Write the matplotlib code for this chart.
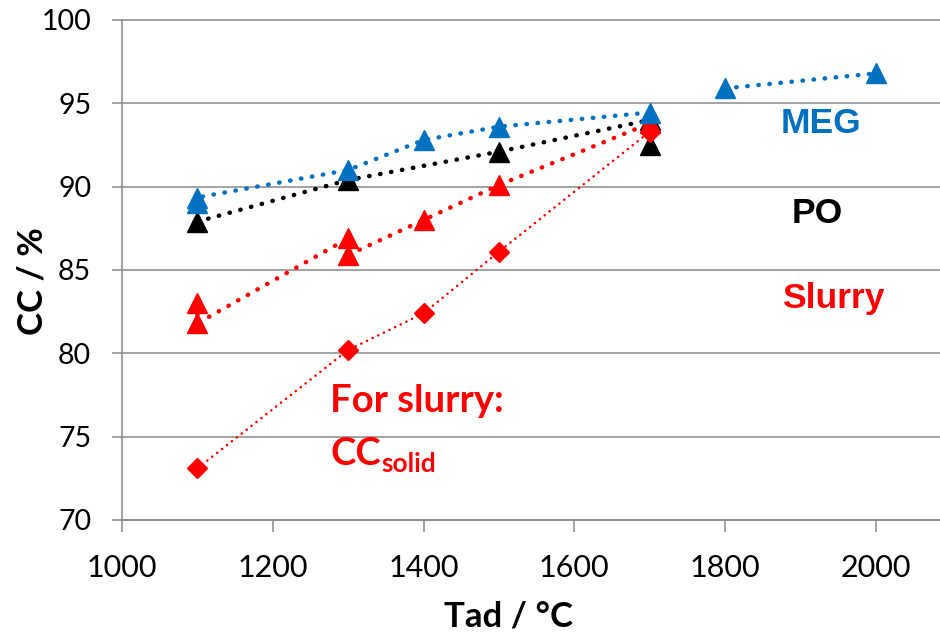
import matplotlib
matplotlib.use("Agg")
import matplotlib.pyplot as plt

# ---- data ----
meg_x = [1100, 1100, 1300, 1400, 1500, 1700]
meg_y = [89.0, 89.35, 91.0, 92.8, 93.6, 94.45]
meg2_x = [1800, 2000]
meg2_y = [95.9, 96.8]
po_x = [1100, 1300, 1500, 1700, 1700]
po_y = [87.9, 90.4, 92.1, 94.0, 92.5]
slurry_x = [1100, 1100, 1300, 1300, 1400, 1500, 1700]
slurry_y = [83.0, 81.8, 86.9, 85.9, 88.0, 90.1, 93.8]
solid_x = [1100, 1300, 1400, 1500, 1700]
solid_y = [73.1, 80.2, 82.4, 86.1, 93.3]
x_ticks = [1000, 1200, 1400, 1600, 1800, 2000]
y_ticks = [70, 75, 80, 85, 90, 95, 100]

BLUE = "#0070C0"
RED = "#FF0000"
GRID = "#898989"
W, H = 940, 632

fig = plt.figure(figsize=(9.4, 6.32), dpi=100)
ax = fig.add_axes([122 / W, 1 - 520 / H, 1 - 122 / W, 500 / H])

big_dot = dict(linestyle=(0, (0.1, 2.4)), linewidth=3.2, dash_capstyle="round")
thin_dot = dict(linestyle=(0, (0.1, 2.4)), linewidth=1.8, dash_capstyle="round")

ax.plot(po_x, po_y, color="black", marker="^", markersize=14, zorder=3, **big_dot)
ax.plot(slurry_x, slurry_y, color=RED, marker="^", markersize=14, zorder=4, **big_dot)
ax.plot(solid_x, solid_y, color=RED, marker="D", markersize=10, zorder=5, **thin_dot)
ax.plot(meg_x, meg_y, color=BLUE, marker="^", markersize=14, zorder=6, **big_dot)
ax.plot(meg2_x, meg2_y, color=BLUE, marker="^", markersize=14, zorder=6, **big_dot)

ax.set_xlim(1000, 2085)
ax.set_ylim(70, 100)
ax.set_xticks(x_ticks)
ax.set_yticks(y_ticks)
ax.grid(axis="y", color=GRID, linewidth=1.1)
ax.grid(axis="x", visible=False)
for gl in ax.get_ygridlines():
    gl.set_clip_on(False)
ax.set_axisbelow(True)
for s in ["top", "right"]:
    ax.spines[s].set_visible(False)
for s in ["left", "bottom"]:
    ax.spines[s].set_color(GRID)
    ax.spines[s].set_linewidth(1.1)

ax.tick_params(axis="x", direction="out", length=8.6, width=1.1, color=GRID, pad=16)
ax.tick_params(axis="y", direction="out", length=7.2, width=1.1, color=GRID, pad=15)
for lab in ax.get_xticklabels():
    lab.set_fontfamily(["Lato", "DejaVu Sans"])
    lab.set_fontsize(22)
for lab in ax.get_yticklabels():
    lab.set_fontfamily(["Lato", "DejaVu Sans"])
    lab.set_fontsize(20.5)


def px(x, y):
    return x / W, 1 - y / H


lbl = dict(family=["Lato", "DejaVu Sans"], size=25, weight="bold")
fig.text(*px(508, 627), "Tad / °C", ha="center", va="baseline", **lbl)
fig.text(*px(43, 281), "CC / %", ha="center", va="baseline", rotation=90,
         rotation_mode="anchor", **lbl)

arial = dict(family=["Liberation Sans", "DejaVu Sans"], size=25.5, weight="bold")
fig.text(*px(821, 133), "MEG", color=BLUE, ha="center", va="baseline", **arial)
fig.text(*px(817, 223), "PO", color="black", ha="center", va="baseline", **arial)
fig.text(*px(833, 308), "Slurry", color=RED, ha="center", va="baseline", **arial)

cal = dict(family=["Lato", "DejaVu Sans"], weight="bold", color=RED)
fig.text(*px(330, 412), "For slurry:", ha="left", va="baseline", size=27.5, **cal)
t = fig.text(*px(330, 465), "CC", ha="left", va="baseline", size=27.5, **cal)
fig.canvas.draw()
bb = t.get_window_extent()
fig.text(bb.x1 / W + 1 / W, 1 - 472 / H, "solid", ha="left", va="baseline", size=19, **cal)

fig.savefig("out.png", dpi=100)
